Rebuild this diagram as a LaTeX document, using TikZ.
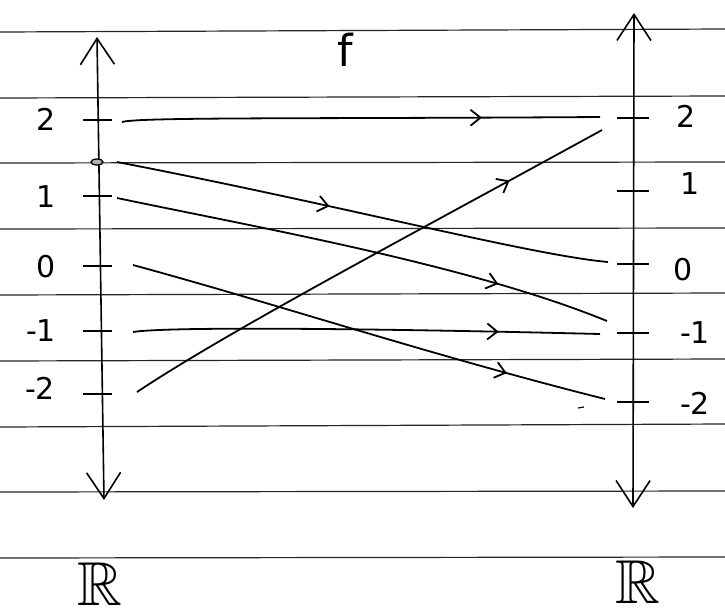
\documentclass[tikz,border=0pt]{standalone}
\usepackage{fontspec}
\setmainfont{DejaVu Sans}
\usepackage{amssymb}
\usetikzlibrary{arrows.meta,decorations.markings}
\begin{document}
\begin{tikzpicture}[x=1pt,y=-1pt,
  rule/.style={black!85, line width=1.2pt},
  axis/.style={line width=1.6pt, {Straight Barb[length=26pt,width=34pt,line width=1.6pt]}-{Straight Barb[length=26pt,width=34pt,line width=1.6pt]}},
  tickmark/.style={line width=1.6pt},
  map/.style={line width=1.8pt, postaction={decorate},
    decoration={markings, mark=at position #1 with {\draw[line width=1.8pt] (-10pt,-8pt) -- (0,0) -- (-10pt,8pt);}}},
  map/.default=0.75,
  num/.style={font=\fontsize{30}{36}\selectfont, inner sep=0pt},
  setname/.style={font=\fontsize{62}{70}\selectfont, inner sep=0pt},
]
\useasboundingbox (0,0) rectangle (725,608);
\fill[white] (0,0) rectangle (725,608);

% ruled paper lines
\foreach \yl/\yr in {32/29, 98/96, 163/162, 229/228, 295/293, 361/359, 427/424, 492/491, 558/557}
  \draw[rule] (0,\yl) -- (725,\yr);

% axes
\coordinate (Ltop) at (97,37);
\coordinate (Lbot) at (104,500);
\coordinate (Rtop) at (634,13);
\coordinate (Rbot) at (633,508);
\draw[axis] (Lbot) -- (Ltop);
\draw[axis] (Rbot) -- (Rtop);

% ticks left
\foreach \n/\y in {p2/120, p1/196, z/266, m1/331, m2/394} {
  \coordinate (L\n) at (98,\y);
  \draw[tickmark] ([xshift=-15pt]L\n) -- ([xshift=14pt]L\n);
}
% ticks right
\foreach \n/\y in {p2/118, p1/191, z/264, m1/333, m2/402} {
  \coordinate (R\n) at (633,\y);
  \draw[tickmark] ([xshift=-16pt]R\n) -- ([xshift=16pt]R\n);
}

% dot on left axis
\draw[line width=1.3pt, fill=black!30] (97,162) ellipse [x radius=6pt, y radius=3pt];
\draw[line width=1.2pt] (578,408) -- (584,407);

% labels left
\node[num] (lp2) at (46,119) {2};
\node[num] (lp1) at (46,197) {1};
\node[num] (lz)  at (46,267) {0};
\node[num] (lm1) at (41,331) {-1};
\node[num] (lm2) at (40,388) {-2};
% labels right
\node[num] (rp2) at (686,116) {2};
\node[num] (rp1) at (690,184) {1};
\node[num] (rz)  at (683,270) {0};
\node[num] (rm1) at (695,333) {-1};
\node[num] (rm2) at (695,403) {-2};

% title and sets
\node[font=\fontsize{44}{50}\selectfont, inner sep=0pt] (f) at (345,50) {f};
\node[setname] (RL) at (100,584) {$\mathbb{R}$};
\node[setname] (RR) at (638,582) {$\mathbb{R}$};

% mapping connectors
\coordinate (s2) at (122,122);
\coordinate (e2) at (600,117);
\coordinate (sd) at (117,162);
\coordinate (e0) at (608,262);
\coordinate (s1) at (117,198);
\coordinate (em1) at (607,321);
\coordinate (s0) at (133,265);
\coordinate (em2) at (605,399);
\coordinate (sm1) at (133,332);
\coordinate (em1b) at (600,334);
\coordinate (sm2) at (137,392);
\coordinate (ep2) at (602,130);

\draw[map=0.75] (s2) .. controls (140,117) and (300,119) .. (e2);
\draw[map=0.43] (sd) .. controls (340,205) and (530,255) .. (e0);
\draw[map=0.77] (s1) .. controls (260,228) and (470,265) .. (em1);
\draw[map=0.79] (s0) .. controls (280,305) and (430,355) .. (em2);
\draw[map=0.78] (sm1) .. controls (170,326) and (400,329) .. (em1b);
\draw[map=0.8] (sm2) .. controls (230,330) and (420,230) .. (ep2);
\end{tikzpicture}
\end{document}
